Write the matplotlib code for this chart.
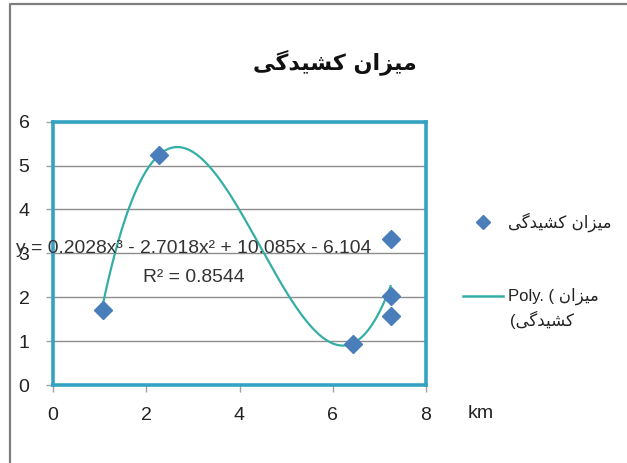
import matplotlib
matplotlib.use("Agg")
import matplotlib.pyplot as plt
import numpy as np
from matplotlib.lines import Line2D

# ---- data ----
x_km = [1.07, 2.27, 6.44, 7.24, 7.24, 7.24]
stretch = [1.72, 5.24, 0.94, 3.33, 2.02, 1.58]
trend_coef = [0.2028, -2.7018, 10.085, -6.104]   # cubic trendline from the chart label
r_squared = 0.8544
y_ticks = [0, 1, 2, 3, 4, 5, 6]
x_ticks = [0, 2, 4, 6, 8]
title_fa = "میزان کشیدگی"
series_fa = "میزان کشیدگی"
unit_label = "km"

# ---- minimal Persian shaping (matplotlib has no complex text layout) ----
FORMS = {
    "\u0645": (0xFEE1, 0xFEE2, 0xFEE3, 0xFEE4),
    "\u06CC": (0xFBFC, 0xFBFD, 0xFBFE, 0xFBFF),
    "\u0632": (0xFEAF, 0xFEB0, None, None),
    "\u0627": (0xFE8D, 0xFE8E, None, None),
    "\u0646": (0xFEE5, 0xFEE6, 0xFEE7, 0xFEE8),
    "\u06A9": (0xFB8E, 0xFB8F, 0xFB90, 0xFB91),
    "\u0634": (0xFEB5, 0xFEB6, 0xFEB7, 0xFEB8),
    "\u062F": (0xFEA9, 0xFEAA, None, None),
    "\u06AF": (0xFB92, 0xFB93, 0xFB94, 0xFB95),
}

def shape(s):
    out = []
    for i, c in enumerate(s):
        if c not in FORMS:
            out.append(c)
            continue
        iso, fin, ini, med = FORMS[c]
        prev = s[i - 1] if i > 0 else ""
        nxt = s[i + 1] if i + 1 < len(s) else ""
        jp = prev in FORMS and FORMS[prev][2] is not None
        jn = ini is not None and nxt in FORMS
        if jp and jn:
            f = med
        elif jp:
            f = fin
        elif jn:
            f = ini
        else:
            f = iso
        out.append(chr(f))
    return "".join(reversed(out))

LAT = ["Liberation Sans", "DejaVu Sans"]
FA = ["DejaVu Sans"]

W, H = 627, 463
fig = plt.figure(figsize=(W / 100, H / 100), dpi=100)
fig.patch.set_facecolor("white")

ax = fig.add_axes([53 / W, 1 - 385 / H, (426 - 53) / W, (385 - 121.7) / H])
ax.set_xlim(0, 8)
ax.set_ylim(0, 6)
ax.set_xticks(x_ticks)
ax.set_yticks(y_ticks)
ax.yaxis.grid(True, color="#8e8e8e", linewidth=1.0)
ax.set_axisbelow(True)
for sp in ax.spines.values():
    sp.set_color("#36A2C2")
    sp.set_linewidth(2.6)
ax.tick_params(direction="out", length=5, color="#a0a0a0", width=1)
ax.tick_params(axis="y", pad=12)
ax.tick_params(axis="x", pad=11)
for lab in ax.get_xticklabels() + ax.get_yticklabels():
    lab.set_fontfamily(LAT)
    lab.set_fontsize(14)
    lab.set_color("#222222")

# trendline
xs = np.linspace(min(x_km), max(x_km), 300)
ax.plot(xs, np.polyval(trend_coef, xs), color="#35AFA6", linewidth=1.6, zorder=3)
# points
ax.plot(x_km, stretch, linestyle="none", marker="D", markersize=9.5,
        color="#4A7EBB", markeredgecolor="#4A7EBB", zorder=4)

eq = "y = {:.4f}x³ - {:.4f}x² + {:.3f}x - {:.3f}".format(
    trend_coef[0], -trend_coef[1], trend_coef[2], -trend_coef[3])
ax.text(-0.80, 3.12, eq, fontsize=13.9, family=LAT, color="#333333",
        ha="left", va="center", clip_on=False, zorder=5)
ax.text(1.93, 2.44, "R² = {:.4f}".format(r_squared), fontsize=13.9, family=LAT,
        color="#333333", ha="left", va="center", clip_on=False, zorder=5)

# title
fig.text(335 / W, 1 - 62 / H, shape(title_fa), fontsize=16, fontweight="bold",
         family=FA, ha="center", va="center", color="#111111")

# unit label
fig.text(468 / W, 1 - 413 / H, unit_label, fontsize=14, family=LAT,
         ha="left", va="center", color="#222222")

# legend (manual, right-to-left style)
fig.add_artist(Line2D([483 / W], [1 - 222 / H], marker="D", markersize=7,
                      color="#4A7EBB", linestyle="none", transform=fig.transFigure))
fig.text(508 / W, 1 - 222 / H, shape(series_fa), fontsize=12, family=FA,
         ha="left", va="center", color="#222222")
fig.add_artist(Line2D([463 / W, 503 / W], [1 - 296 / H, 1 - 296 / H],
                      color="#35AFA6", linewidth=1.8, transform=fig.transFigure))
words = series_fa.split(" ")
fig.text(508 / W, 1 - 296 / H, "Poly. ( " + shape(words[0]), fontsize=12, family=LAT,
         ha="left", va="center", color="#222222")
fig.text(510 / W, 1 - 320 / H, "(" + shape(words[1]), fontsize=12, family=LAT,
         ha="left", va="center", color="#222222")

# outer chart frame (top and left edges visible)
fig.add_artist(Line2D([10 / W, 10 / W, 1.0], [0.0, 1 - 4 / H, 1 - 4 / H],
                      color="#7f7f7f", linewidth=1.6, transform=fig.transFigure))

fig.savefig("out.png", dpi=100, facecolor="white")
